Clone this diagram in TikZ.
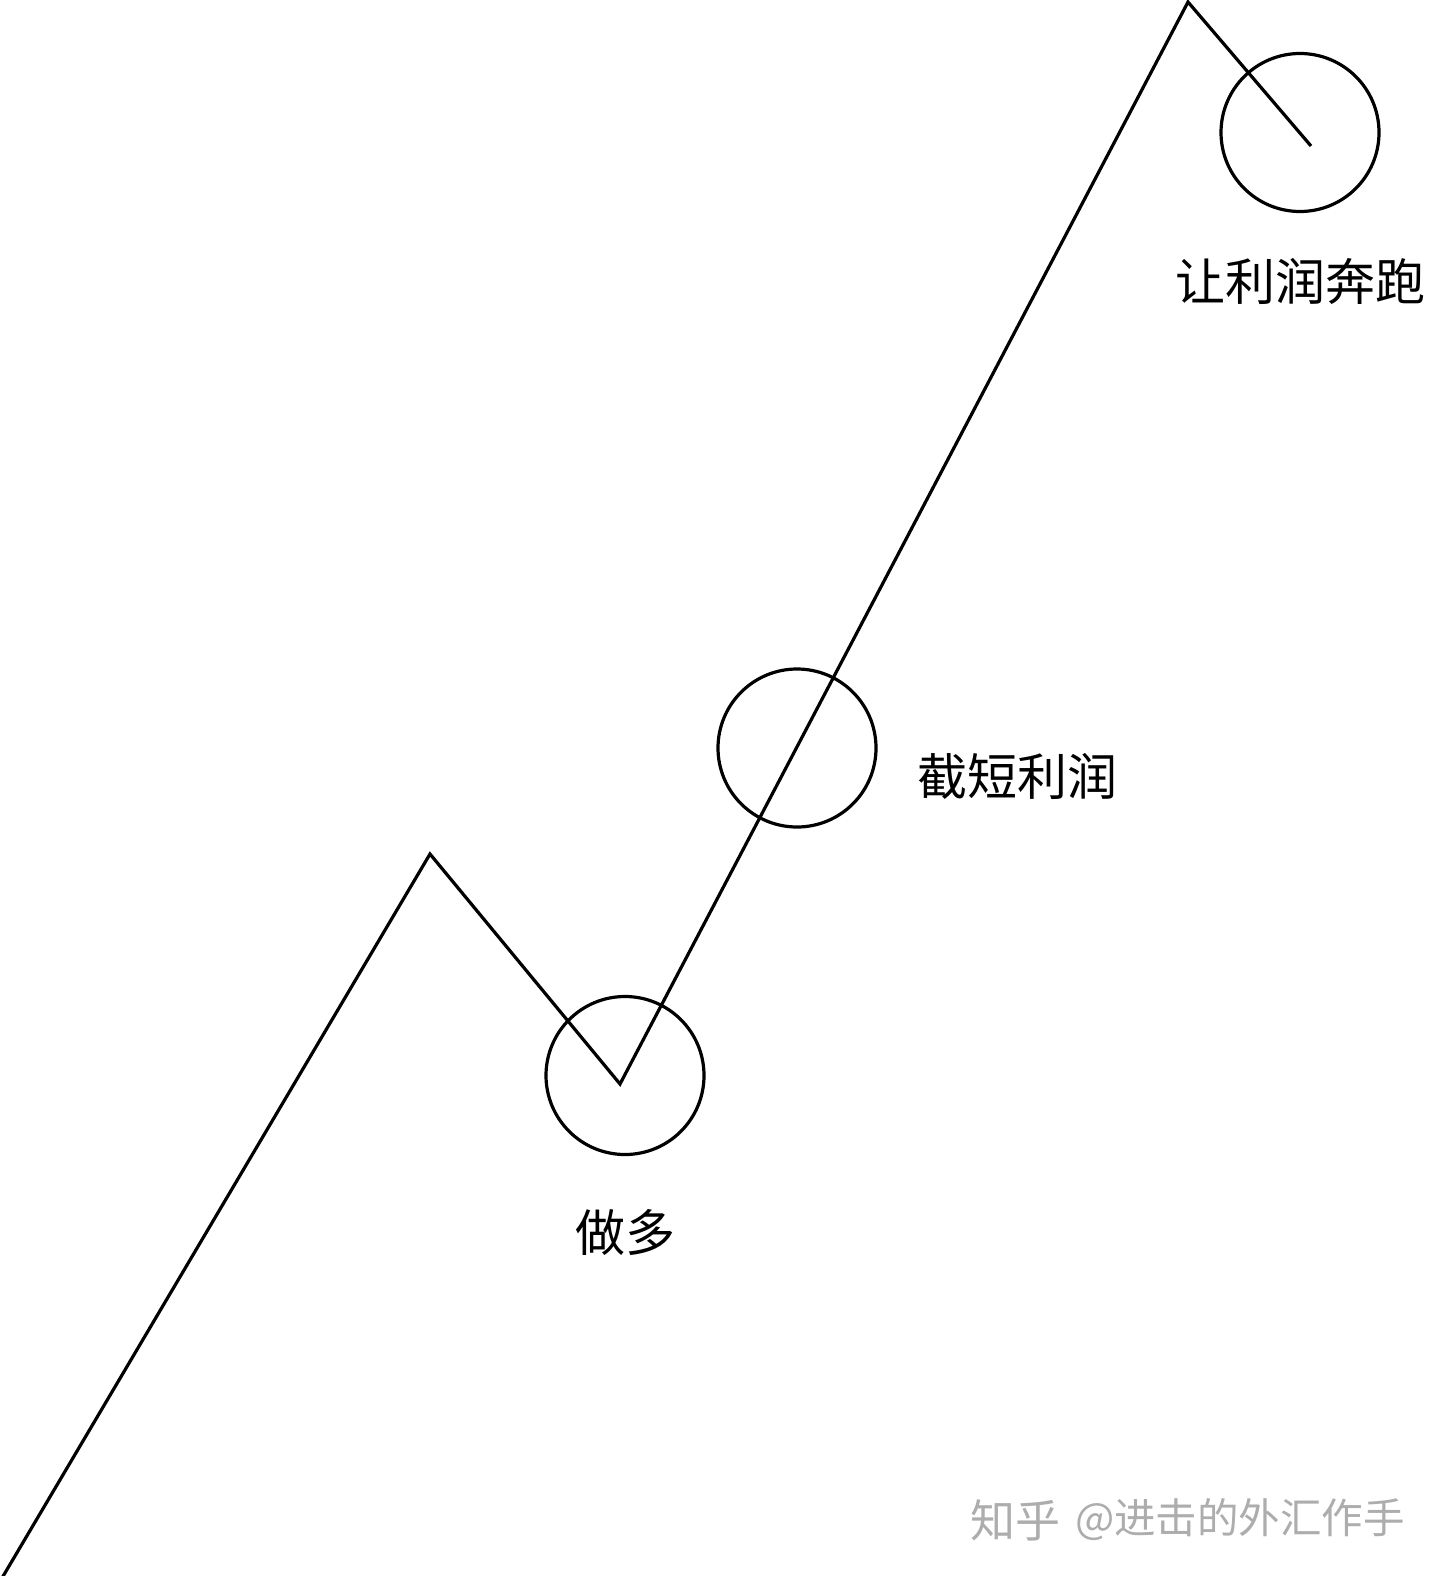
\documentclass[tikz,border=0pt]{standalone}
\usepackage{fontspec}
\setmainfont{Noto Sans CJK SC}
\tikzset{
  ring/.style={circle,draw=black,line width=3.2pt,minimum size=158pt,inner sep=0pt},
  pathline/.style={draw=black,line width=3.2pt,line join=miter},
  lbl/.style={inner sep=0pt,font=\fontsize{50}{50}\selectfont,text=black},
  mark text/.style={inner sep=0pt,text=black!32}
}
\begin{document}
\begin{tikzpicture}[x=1pt,y=-1pt]
\useasboundingbox[fill=white] (0,0) rectangle (1440,1576);
\coordinate (p0) at (2,1578);
\coordinate (p1) at (430,854);
\coordinate (p2) at (620,1084);
\coordinate (p3) at (1188,2);
\coordinate (p4) at (1311,146);
\draw[pathline] (p0) -- (p1) -- (p2) -- (p3) -- (p4);
\node[ring] (c1) at (625,1075.5) {};
\node[ring] (c2) at (797,748) {};
\node[ring] (c3) at (1300,132.5) {};
\node[lbl] (t1) at (625,1232) {做多};
\node[lbl] (t2) at (1017,776.5) {截短利润};
\node[lbl] (t3) at (1300,281) {让利润奔跑};
\node[mark text,anchor=west,font=\fontsize{45}{45}\selectfont] (w1) at (970,1520) {知乎};
\node[mark text,anchor=west,font=\fontsize{41.5}{41.5}\selectfont] (w2) at (1075,1520) {@进击的外汇作手};
\end{tikzpicture}
\end{document}
